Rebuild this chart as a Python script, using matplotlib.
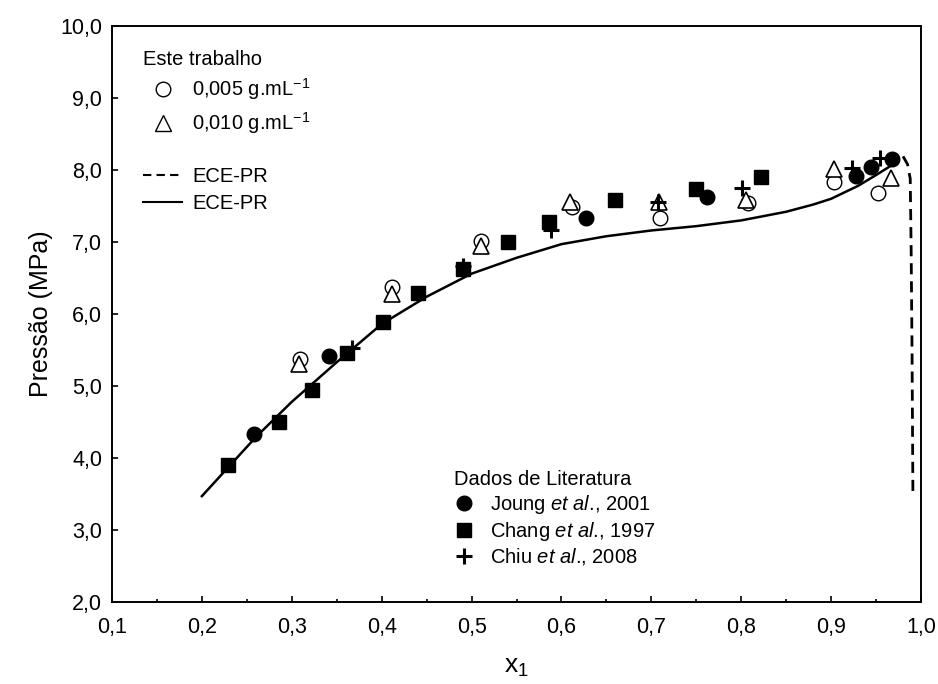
import numpy as np
import matplotlib
matplotlib.use("Agg")
import matplotlib.pyplot as plt
from matplotlib.lines import Line2D
from matplotlib.ticker import MultipleLocator

plt.rcParams['font.family'] = ['Liberation Sans', 'DejaVu Sans']
plt.rcParams['mathtext.fontset'] = 'custom'
plt.rcParams['mathtext.rm'] = 'Liberation Sans'
plt.rcParams['mathtext.it'] = 'Liberation Sans:italic'

# este trabalho
x_005 = [0.309, 0.412, 0.511, 0.612, 0.710, 0.807, 0.903, 0.952]
p_005 = [5.38, 6.37, 7.01, 7.49, 7.34, 7.54, 7.84, 7.68]
x_010 = [0.308, 0.411, 0.511, 0.609, 0.708, 0.805, 0.903, 0.967]
p_010 = [5.31, 6.28, 6.94, 7.55, 7.56, 7.58, 8.01, 7.89]

# dados de literatura
x_joung = [0.258, 0.341, 0.627, 0.762, 0.928, 0.944, 0.968]
p_joung = [4.33, 5.42, 7.33, 7.63, 7.92, 8.04, 8.15]
x_chang = [0.229, 0.286, 0.322, 0.361, 0.402, 0.440, 0.490, 0.541, 0.586, 0.660, 0.750, 0.822]
p_chang = [3.90, 4.50, 4.94, 5.46, 5.89, 6.29, 6.62, 7.00, 7.28, 7.58, 7.74, 7.90]
x_chiu = [0.367, 0.490, 0.588, 0.707, 0.801, 0.923, 0.954]
p_chiu = [5.53, 6.67, 7.17, 7.56, 7.75, 8.03, 8.17]

# ECE-PR
x_sol = [0.20, 0.23, 0.26, 0.30, 0.35, 0.40, 0.45, 0.50, 0.55, 0.60, 0.65, 0.70,
         0.75, 0.80, 0.85, 0.88, 0.90, 0.93, 0.95, 0.973]
p_sol = [3.47, 3.88, 4.29, 4.78, 5.33, 5.86, 6.24, 6.56, 6.78, 6.97, 7.08, 7.16,
         7.22, 7.30, 7.42, 7.52, 7.60, 7.78, 7.93, 8.11]
x_dash = [0.980, 0.985, 0.988, 0.989, 0.990, 0.991]
p_dash = [8.19, 8.08, 7.88, 6.90, 5.50, 3.45]

fig = plt.figure(figsize=(9.38, 6.84), dpi=100)
ax = fig.add_axes([0.1194, 0.1199, 0.8625, 0.8421])

ax.plot(x_sol, p_sol, '-', color='black', lw=1.8, zorder=2)
ax.plot(x_dash, p_dash, '--', color='black', lw=2.0, dashes=(4, 2.5), zorder=2)

ax.plot(x_005, p_005, 'o', ms=10.5, mfc='white', mec='black', mew=1.0, ls='none', zorder=3)
ax.plot(x_010, p_010, '^', ms=11, mfc='white', mec='black', mew=1.2, ls='none', zorder=4)
ax.plot(x_joung, p_joung, 'o', ms=10.5, color='black', ls='none', zorder=5)
ax.plot(x_chang, p_chang, 's', ms=10, color='black', ls='none', zorder=5)
ax.plot(x_chiu, p_chiu, '+', ms=12, mew=2.2, color='black', ls='none', zorder=6)

ax.set_xlim(0.1, 1.0)
ax.set_ylim(2.0, 10.0)
ax.xaxis.set_major_locator(MultipleLocator(0.1))
ax.xaxis.set_minor_locator(MultipleLocator(0.05))
ax.yaxis.set_major_locator(MultipleLocator(1.0))
ax.xaxis.set_major_formatter(lambda v, pos: f'{v:.1f}'.replace('.', ','))
ax.yaxis.set_major_formatter(lambda v, pos: f'{v:.1f}'.replace('.', ','))
ax.tick_params(which='both', direction='in', labelsize=15.5, width=1.2)
ax.tick_params(which='major', length=4)
ax.tick_params(which='minor', length=2.5)
ax.tick_params(axis='x', which='major', pad=11)
ax.tick_params(axis='y', which='major', pad=7)
for s in ax.spines.values():
    s.set_linewidth(1.4)

ax.set_xlabel('x$_1$', fontsize=19, labelpad=12)
ax.set_ylabel('Pressão (MPa)', fontsize=18, labelpad=5)

h1 = [
    Line2D([], [], marker='o', ms=10.5, mfc='white', mec='black', ls='none'),
    Line2D([], [], marker='^', ms=11, mfc='white', mec='black', ls='none'),
    Line2D([], [], ls='none'),
    Line2D([], [], color='black', ls='--', lw=1.5, dashes=(4, 2.5)),
    Line2D([], [], color='black', ls='-', lw=1.5),
]
l1 = ['0,005 g.mL$^{-1}$', '0,010 g.mL$^{-1}$', ' ', 'ECE-PR', 'ECE-PR']
leg1 = ax.legend(h1, l1, title='Este trabalho', loc='upper left', bbox_to_anchor=(0.016, 0.99),
                 frameon=False, fontsize=14.5, title_fontsize=14.5, handlelength=1.95,
                 labelspacing=0.38, alignment='left', handletextpad=0.5)
leg1.get_texts()[2].set_fontsize(8)
ax.add_artist(leg1)

h2 = [
    Line2D([], [], marker='o', ms=10.5, color='black', ls='none'),
    Line2D([], [], marker='s', ms=10, color='black', ls='none'),
    Line2D([], [], marker='+', ms=12, mew=2.2, color='black', ls='none'),
]
l2 = [r'Joung $\it{et\ al}$., 2001', r'Chang $\it{et\ al}$., 1997', r'Chiu $\it{et\ al}$., 2008']
ax.legend(h2, l2, title='Dados de Literatura', loc='upper left', bbox_to_anchor=(0.40, 0.26),
          frameon=False, fontsize=14.5, title_fontsize=14.5, handlelength=1.0,
          labelspacing=0.18, alignment='left', handletextpad=0.8)

fig.savefig('out.png', dpi=100)
